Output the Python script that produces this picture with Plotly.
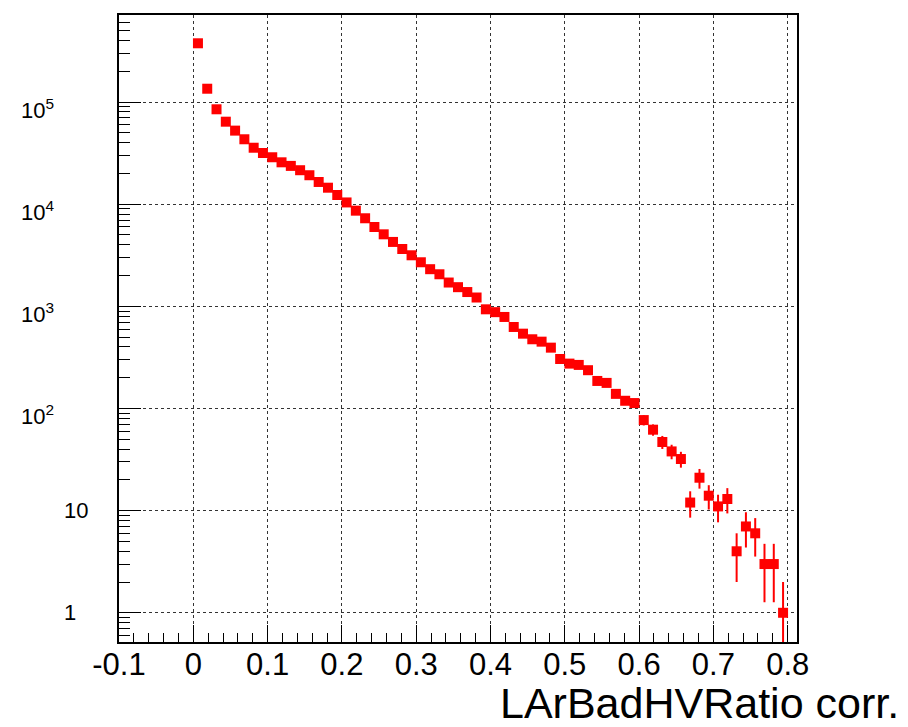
import numpy as np
import plotly.graph_objects as go

# Histogram: 64 bins from 0 to 0.8
bin_lo = 0.0
bin_hi = 0.8
n_bins = 64
counts = [
    376000, 135000, 84900, 64200, 52500, 43200, 35700, 31700, 28800, 25700,
    23700, 21500, 19200, 16500, 14500, 12300, 10400, 8640, 7280, 5980,
    5070, 4270, 3640, 3160, 2700, 2310, 2060, 1710, 1540, 1380,
    1220, 935, 877, 787, 628, 540, 476, 451, 394, 305,
    275, 267, 237, 186, 178, 139, 119, 113, 77, 62,
    47, 38, 32, 12, 21, 14, 11, 13, 4, 7,
    6, 3, 3, 1,
]
x_tick_vals = [-0.1, 0, 0.1, 0.2, 0.3, 0.4, 0.5, 0.6, 0.7, 0.8]
x_tick_text = ["-0.1", "0", "0.1", "0.2", "0.3", "0.4", "0.5", "0.6", "0.7", "0.8"]
y_label_vals = [1, 10, 100, 1000, 10000, 100000]
y_label_text = ["1", "10", "10<sup>2</sup>", "10<sup>3</sup>", "10<sup>4</sup>", "10<sup>5</sup>"]
x_title = "LArBadHVRatio corr."

edges = np.linspace(bin_lo, bin_hi, n_bins + 1)
centers = 0.5 * (edges[:-1] + edges[1:])
counts_arr = np.array(counts, dtype=float)
errs = np.sqrt(counts_arr)

FONT = "Liberation Sans, Arial, Helvetica, sans-serif"

fig = go.Figure()
fig.add_trace(go.Scatter(
    x=centers, y=counts_arr, mode="markers",
    marker=dict(symbol="square", size=10, color="#ff0000", line=dict(width=0)),
    error_y=dict(type="data", array=errs, color="#ff0000", thickness=2, width=0),
    showlegend=False,
))

fig.update_layout(
    width=908, height=727,
    margin=dict(l=119, r=111, t=15, b=85),
    paper_bgcolor="white", plot_bgcolor="white",
    font=dict(family=FONT, color="black"),
)

fig.update_xaxes(
    range=[-0.1, 0.8125],
    tickvals=x_tick_vals, ticktext=x_tick_text,
    tickfont=dict(size=31, family=FONT, color="black"),
    ticklabelstandoff=-6,
    ticks="inside", ticklen=17, tickwidth=1, tickcolor="black",
    minor=dict(ticks="inside", ticklen=9, tickwidth=1, tickcolor="black",
               tick0=0, dtick=0.02, showgrid=False),
    showgrid=True, gridcolor="#333333", griddash="dot", gridwidth=1,
    showline=True, linecolor="black", linewidth=2, mirror=True,
    zeroline=False,
)

fig.update_yaxes(
    type="log",
    range=[-0.286, 5.852],
    dtick=1,
    showticklabels=False,
    ticks="inside", ticklen=22, tickwidth=1, tickcolor="black",
    minor=dict(ticks="inside", ticklen=11, tickwidth=1, tickcolor="black",
               dtick="D1", showgrid=False),
    showgrid=True, gridcolor="#333333", griddash="dot", gridwidth=1,
    showline=True, linecolor="black", linewidth=2, mirror=True,
    zeroline=False,
)

for v, t in zip(y_label_vals, y_label_text):
    sup = "<sup>" in t
    fig.add_annotation(
        x=0, xref="paper", y=np.log10(v), yref="y",
        text=t, showarrow=False, xanchor="left", yanchor="middle",
        xshift=-100 if sup else -57, yshift=-7 if sup else 0,
        font=dict(size=22, family=FONT, color="black"),
    )

fig.add_annotation(
    x=1.1534, xref="paper", y=0, yref="paper",
    text=x_title, showarrow=False, xanchor="right", yanchor="top",
    yshift=-35,
    font=dict(size=43, family=FONT, color="black"),
)

fig.write_html("out.html")
